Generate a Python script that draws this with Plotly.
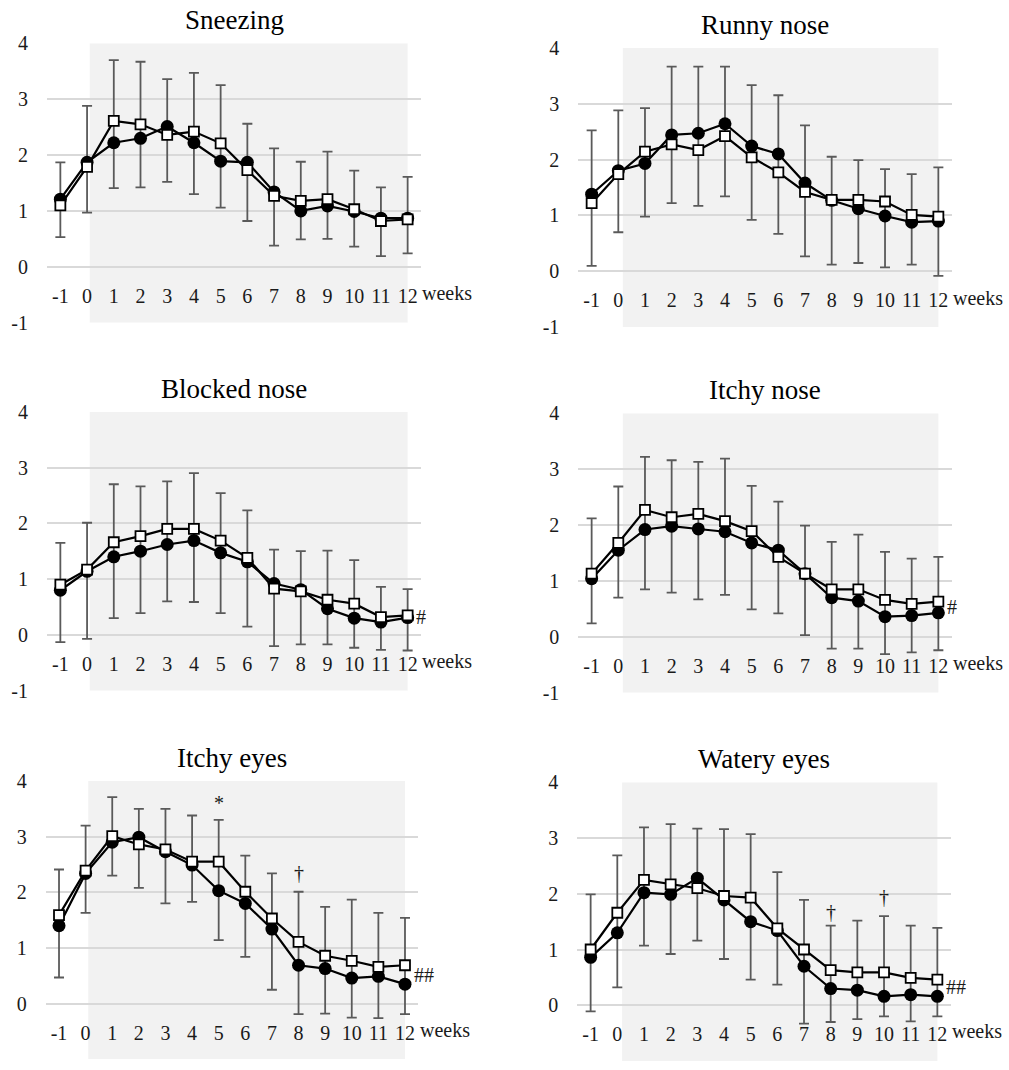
import numpy as np
import plotly.graph_objects as go

# ---------------- data ----------------
weeks = [-1, 0, 1, 2, 3, 4, 5, 6, 7, 8, 9, 10, 11, 12]
week_labels = [str(w) for w in weeks]
y_ticks = [-1, 0, 1, 2, 3, 4]
titles = ["Sneezing", "Runny nose", "Blocked nose", "Itchy nose", "Itchy eyes", "Watery eyes"]

sneezing_filled = [1.21, 1.87, 2.22, 2.30, 2.51, 2.22, 1.89, 1.87, 1.34, 1.00, 1.09, 0.99, 0.87, 0.87]
sneezing_open   = [1.10, 1.79, 2.61, 2.55, 2.36, 2.42, 2.21, 1.73, 1.27, 1.18, 1.21, 1.03, 0.82, 0.85]
sneezing_hi     = [1.87, 2.88, 3.70, 3.67, 3.36, 3.47, 3.25, 2.56, 2.12, 1.88, 2.06, 1.72, 1.42, 1.61]
sneezing_lo     = [0.53, 0.97, 1.41, 1.42, 1.52, 1.30, 1.06, 0.82, 0.38, 0.49, 0.50, 0.36, 0.19, 0.24]

runny_filled = [1.38, 1.80, 1.93, 2.44, 2.47, 2.64, 2.24, 2.10, 1.58, 1.27, 1.12, 0.99, 0.88, 0.90]
runny_open   = [1.22, 1.74, 2.14, 2.27, 2.17, 2.42, 2.04, 1.77, 1.42, 1.28, 1.28, 1.25, 1.01, 0.98]
runny_hi     = [2.52, 2.88, 2.92, 3.66, 3.66, 3.66, 3.33, 3.15, 2.61, 2.05, 1.99, 1.83, 1.74, 1.86]
runny_lo     = [0.10, 0.70, 0.98, 1.22, 1.17, 1.34, 0.92, 0.67, 0.27, 0.12, 0.15, 0.07, 0.12, -0.08]

blocked_filled = [0.80, 1.14, 1.40, 1.50, 1.62, 1.69, 1.47, 1.31, 0.92, 0.81, 0.47, 0.30, 0.23, 0.31]
blocked_open   = [0.90, 1.17, 1.66, 1.77, 1.90, 1.90, 1.69, 1.38, 0.83, 0.78, 0.63, 0.56, 0.32, 0.35]
blocked_hi     = [1.65, 2.01, 2.70, 2.66, 2.75, 2.90, 2.54, 2.23, 1.53, 1.50, 1.51, 1.34, 0.86, 0.82]
blocked_lo     = [-0.13, -0.07, 0.30, 0.39, 0.60, 0.59, 0.39, 0.15, -0.20, -0.17, -0.17, -0.23, -0.27, -0.28]

itchynose_filled = [1.04, 1.55, 1.92, 1.98, 1.93, 1.88, 1.68, 1.55, 1.13, 0.70, 0.64, 0.36, 0.38, 0.43]
itchynose_open   = [1.13, 1.68, 2.27, 2.14, 2.20, 2.07, 1.89, 1.43, 1.13, 0.85, 0.85, 0.66, 0.59, 0.63]
itchynose_hi     = [2.12, 2.69, 3.22, 3.16, 3.13, 3.19, 2.70, 2.42, 1.99, 1.70, 1.83, 1.52, 1.40, 1.43]
itchynose_lo     = [0.24, 0.70, 0.85, 0.79, 0.67, 0.75, 0.49, 0.42, 0.03, -0.21, -0.21, -0.31, -0.28, -0.24]

itchyeyes_filled = [1.40, 2.34, 2.90, 2.99, 2.73, 2.49, 2.03, 1.80, 1.34, 0.69, 0.63, 0.46, 0.49, 0.35]
itchyeyes_open   = [1.59, 2.39, 3.01, 2.86, 2.77, 2.55, 2.55, 2.01, 1.53, 1.11, 0.86, 0.77, 0.66, 0.69]
itchyeyes_hi     = [2.41, 3.20, 3.71, 3.50, 3.50, 3.38, 3.30, 2.66, 2.34, 2.01, 1.74, 1.87, 1.63, 1.54]
itchyeyes_lo     = [0.47, 1.63, 2.30, 2.08, 1.80, 1.83, 1.14, 0.84, 0.25, -0.19, -0.18, -0.25, -0.26, -0.19]

watery_filled = [0.86, 1.30, 2.02, 1.99, 2.28, 1.89, 1.50, 1.34, 0.70, 0.30, 0.27, 0.16, 0.19, 0.16]
watery_open   = [1.00, 1.66, 2.25, 2.17, 2.10, 1.96, 1.93, 1.38, 1.00, 0.63, 0.59, 0.59, 0.49, 0.46]
watery_hi     = [1.99, 2.69, 3.19, 3.25, 3.17, 3.16, 3.07, 2.39, 1.89, 1.43, 1.52, 1.60, 1.43, 1.39]
watery_lo     = [-0.11, 0.32, 1.07, 0.92, 1.16, 0.83, 0.46, 0.37, -0.33, -0.30, -0.25, -0.20, -0.29, -0.20]

# significance marks: (panel index, week, y value, text)
mark_panel = [2, 3, 4, 4, 4, 5, 5, 5]
mark_week  = [12, 12, 5, 8, 12, 8, 10, 12]
mark_y     = [0.32, 0.54, 3.60, 2.34, 0.51, 1.68, 1.95, 0.33]
mark_text  = ["#", "#", "*", "†", "##", "†", "†", "##"]

panels = [
    (sneezing_filled, sneezing_open, sneezing_hi, sneezing_lo),
    (runny_filled, runny_open, runny_hi, runny_lo),
    (blocked_filled, blocked_open, blocked_hi, blocked_lo),
    (itchynose_filled, itchynose_open, itchynose_hi, itchynose_lo),
    (itchyeyes_filled, itchyeyes_open, itchyeyes_hi, itchyeyes_lo),
    (watery_filled, watery_open, watery_hi, watery_lo),
]

# ---------------- layout geometry (pixels in the page) ----------------
W, H = 1009, 1070
X_RANGE = [-1.5, 12.5]
# (left, right, top, bottom) of each plot area, page pixels
boxes = [
    (47, 421, 43.3, 322.7),
    (578.3, 951.7, 47.7, 327.3),
    (47, 421, 411.7, 690.7),
    (578.3, 951.7, 413.3, 692.7),
    (45.7, 418.3, 781, 1059.3),
    (577.3, 950.7, 782.3, 1061),
]
shade_start = [0.1, 0.17, 0.1, 0.17, 0.1, 0.18]

SERIF = "Liberation Serif"
TXT = "#1a1a1a"

fig = go.Figure()
layout = dict(
    width=W, height=H,
    margin=dict(l=0, r=0, t=0, b=0, autoexpand=False),
    paper_bgcolor="white", plot_bgcolor="rgba(0,0,0,0)",
    showlegend=False,
    font=dict(family=SERIF, color=TXT, size=20),
)
shapes = []
annotations = []

def to_domain_x(v):
    return (v - X_RANGE[0]) / (X_RANGE[1] - X_RANGE[0])

for i, (filled, opn, hi, lo) in enumerate(panels):
    n = i + 1
    xa = "x" if n == 1 else f"x{n}"
    ya = "y" if n == 1 else f"y{n}"
    l, r, t, b = boxes[i]
    xd = [l / W, r / W]
    yd = [1 - b / H, 1 - t / H]
    zero_pos = yd[0] + (0 - (-1)) / 5 * (yd[1] - yd[0])

    layout["xaxis" if n == 1 else f"xaxis{n}"] = dict(
        domain=xd, range=X_RANGE, anchor="free", position=zero_pos,
        tickmode="array", tickvals=weeks, ticktext=week_labels,
        showgrid=False, zeroline=False, showline=False, ticks="",
        ticklabelstandoff=15, automargin=False,
        tickfont=dict(family=SERIF, size=20, color=TXT),
        fixedrange=True,
    )
    layout["yaxis" if n == 1 else f"yaxis{n}"] = dict(
        domain=yd, range=[-1, 4], anchor=xa,
        tickmode="array", tickvals=y_ticks, ticktext=[str(v) for v in y_ticks],
        showgrid=True, gridcolor="#d9d9d9", gridwidth=2,
        zeroline=False, showline=False, ticks="",
        ticklabelstandoff=18, automargin=False,
        tickfont=dict(family=SERIF, size=20, color=TXT),
        fixedrange=True,
    )

    shapes.append(dict(type="rect", xref=xa, yref=ya, x0=shade_start[i], x1=12,
                       y0=-1, y1=4, fillcolor="#f2f2f2", line=dict(width=0),
                       layer="below"))

    hi_a = np.array(hi)
    lo_a = np.array(lo)
    mid = (hi_a + lo_a) / 2
    fig.add_trace(go.Scatter(
        x=weeks, y=mid, mode="markers", xaxis=xa, yaxis=ya,
        marker=dict(size=1, color="rgba(0,0,0,0)"),
        error_y=dict(type="data", symmetric=False, array=hi_a - mid,
                     arrayminus=mid - lo_a, color="#5a5a5a", thickness=1.8, width=5),
        hoverinfo="skip",
    ))
    fig.add_trace(go.Scatter(
        x=weeks, y=filled, mode="lines+markers", xaxis=xa, yaxis=ya,
        line=dict(color="black", width=2.2),
        marker=dict(symbol="circle", size=13, color="black"),
    ))
    fig.add_trace(go.Scatter(
        x=weeks, y=opn, mode="lines+markers", xaxis=xa, yaxis=ya,
        line=dict(color="black", width=2.2),
        marker=dict(symbol="square", size=10, color="white",
                    line=dict(color="black", width=1.8)),
    ))

    # panel title
    annotations.append(dict(
        text=titles[i], xref=f"{xa} domain", yref=f"{ya} domain",
        x=0.5, y=1, xanchor="center", yanchor="bottom", yshift=6,
        showarrow=False, font=dict(family=SERIF, size=27, color="black"),
    ))
    # "weeks" label after last tick
    annotations.append(dict(
        text="weeks", xref=f"{xa} domain", yref=ya, x=to_domain_x(12.47), y=-0.47,
        xanchor="left", yanchor="middle", showarrow=False,
        font=dict(family=SERIF, size=20, color=TXT),
    ))

for p, wk, yv, tx in zip(mark_panel, mark_week, mark_y, mark_text):
    n = p + 1
    xa = "x" if n == 1 else f"x{n}"
    ya = "y" if n == 1 else f"y{n}"
    if tx.startswith("#"):
        annotations.append(dict(text=tx, xref=xa, yref=ya, x=wk + 0.25, y=yv,
                                xanchor="left", yanchor="middle", showarrow=False,
                                font=dict(family=SERIF, size=20, color=TXT)))
    else:
        annotations.append(dict(text=tx, xref=xa, yref=ya, x=wk, y=yv,
                                xanchor="center", yanchor="middle", showarrow=False,
                                font=dict(family=SERIF, size=20, color=TXT)))

layout["shapes"] = shapes
layout["annotations"] = annotations
fig.update_layout(**layout)
fig.write_html(
    "out.html",
    config={"displayModeBar": False},
    post_script="document.body.style.margin='0';document.body.style.overflow='hidden';",
)
